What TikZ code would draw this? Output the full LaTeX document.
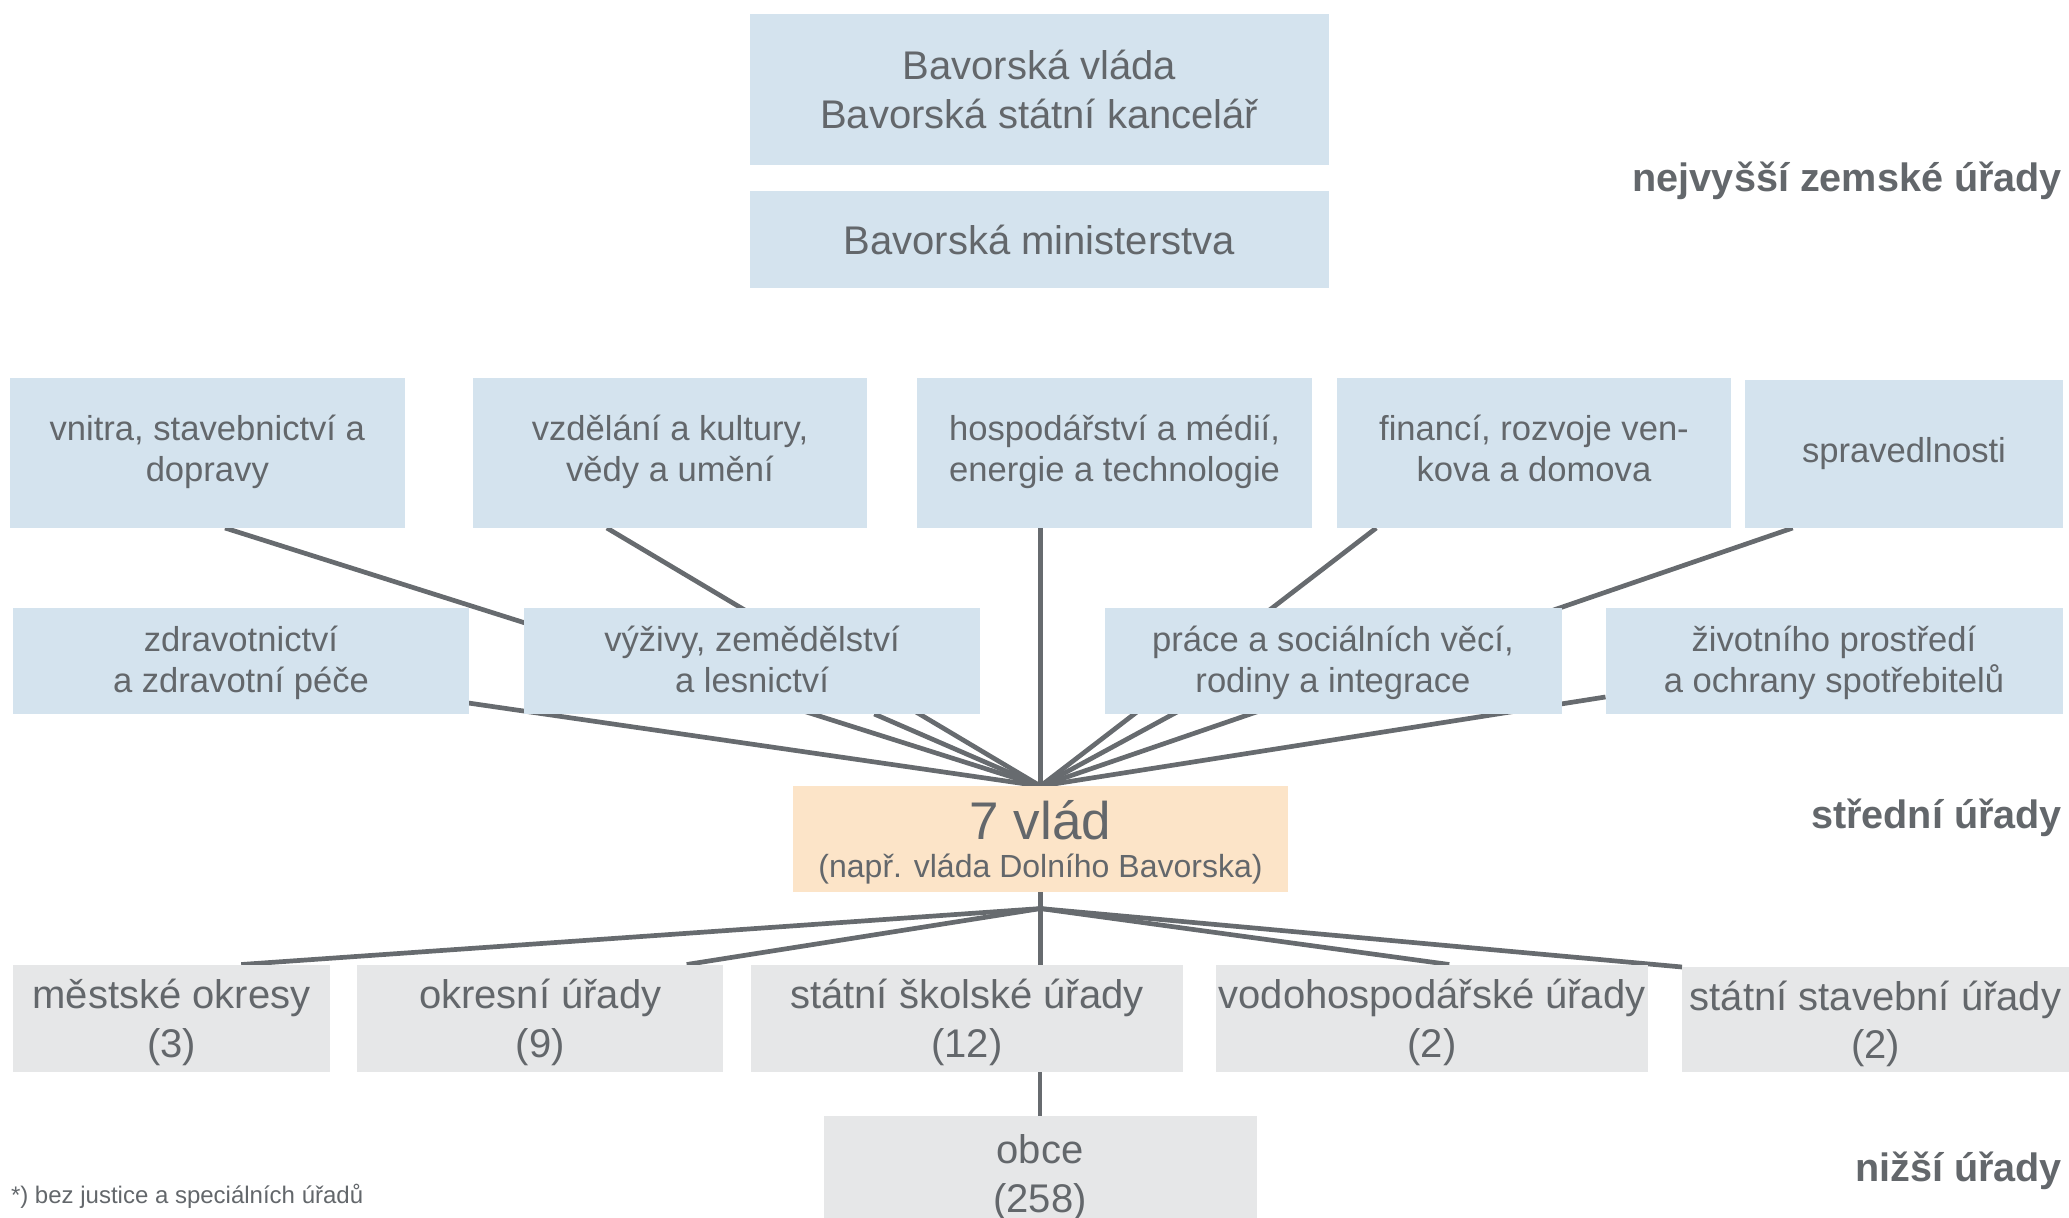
\documentclass[tikz,border=0pt]{standalone}
\usepackage{fontspec}
\setmainfont{Liberation Sans}
\usetikzlibrary{calc, backgrounds}

\definecolor{boxblue}{HTML}{D4E3EE}
\definecolor{boxorange}{HTML}{FCE4C8}
\definecolor{boxgray}{HTML}{E6E7E8}
\definecolor{textgray}{HTML}{63676B}
\definecolor{linegray}{HTML}{676B6F}

\begin{document}
\begin{tikzpicture}[x = 0.5pt, y = -0.5pt,
	every node/.style = {inner sep = 0pt, outer sep = 0pt, text = textgray},
	topoffice/.style = {fill = boxblue, align = center, minimum width = 289.75pt, font = \fontsize{20}{24.4}\selectfont},
	office/.style = {fill = boxblue, align = center, font = \fontsize{17.3}{20.5}\selectfont},
	midoffice/.style = {fill = boxorange, minimum width = 247.5pt, minimum height = 52.75pt},
	lowoffice/.style = {fill = boxgray, align = center, font = \fontsize{20}{24.4}\selectfont, text height = 39.4pt, text depth = 0pt},
	twolines/.style = {text height = #1, text depth = 0pt},
	tierlabel/.style = {anchor = base east, font = \fontsize{19.8}{24}\selectfont\bfseries},
	conn/.style = {draw = linegray, line width = 2.35pt}]

	\useasboundingbox (0, 0) rectangle (2069, 1217);

	% Highest state offices
	
	\node [topoffice, minimum height = 75.5pt, yshift = -0.5pt] (govt) at (1039.3, 88.5) {Bavorská vláda\\Bavorská státní kancelář};
	\node [topoffice, minimum height = 48.2pt] (minis) at (1039.3, 239.5) {Bavorská ministerstva};
	
	% Ministries, first row
	
	\node [office, twolines = 28.7pt, minimum width = 197.25pt, minimum height = 75pt] (vnitra) at (207.3, 453) {vnitra, stavebnictví a\\dopravy};
	\node [office, twolines = 28.7pt, minimum width = 197.3pt, minimum height = 75pt] (vzdelani) at (670, 453) {vzdělání a kultury,\\vědy a umění};
	\node [office, twolines = 28.7pt, minimum width = 197.5pt, minimum height = 75pt] (hosp) at (1114.6, 453) {hospodářství a médií,\\energie a technologie};
	\node [office, twolines = 28.7pt, minimum width = 197.2pt, minimum height = 75pt] (financi) at (1534, 453) {financí, rozvoje ven-\\kova a domova};
	\node [office, minimum width = 159pt, minimum height = 74pt] (sprav) at (1904, 454) {spravedlnosti};
	
	% Ministries, second row
	
	\node [office, twolines = 31.5pt, minimum width = 228pt, minimum height = 53pt] (zdrav) at (241, 661) {zdravotnictví\\a zdravotní péče};
	\node [office, twolines = 31.5pt, minimum width = 228pt, minimum height = 53pt] (vyziva) at (752, 661) {výživy, zemědělství\\a lesnictví};
	\node [office, twolines = 31.5pt, minimum width = 228.5pt, minimum height = 53pt] (prace) at (1333, 661) {práce a sociálních věcí,\\rodiny a integrace};
	\node [office, twolines = 31.5pt, minimum width = 228.5pt, minimum height = 53pt] (zivot) at (1834, 661) {životního prostředí\\a ochrany spotřebitelů};
	
	% Middle offices
	
	\node [midoffice] (vlad) at (1040.5, 838.8) {};
	\node [anchor = base, font = \fontsize{26.5}{30}\selectfont] (vladnum) at (1040.5, 839.5) {7 vlád};
	\node [anchor = base, font = \fontsize{16}{19}\selectfont] (vladsub) at (1040.5, 877) {(např. vláda Dolního Bavorska)};
	
	% Lower offices
	
	\node [lowoffice, minimum width = 158.5pt, minimum height = 53.5pt] (mestske) at (171.5, 1018) {městské okresy\\(3)};
	\node [lowoffice, minimum width = 183pt, minimum height = 53.5pt] (okresni) at (540.3, 1018) {okresní úřady\\(9)};
	\node [lowoffice, minimum width = 216.2pt, minimum height = 53.5pt] (skolske) at (966.9, 1018) {státní školské úřady\\(12)};
	\node [lowoffice, minimum width = 216pt, minimum height = 53.5pt] (vodo) at (1432, 1018) {vodohospodářské úřady\\(2)};
	\node [lowoffice, minimum width = 193.5pt, minimum height = 52.5pt] (stavebni) at (1875.5, 1019.5) {státní stavební úřady\\(2)};
	\node [lowoffice, minimum width = 216.5pt, minimum height = 57pt] (obce) at (1040, 1173) {obce\\(258)};
	
	% Tier labels and note
	
	\node [tierlabel] (tiertop) at (2062, 191.5) {nejvyšší zemské úřady};
	\node [tierlabel] (tiermid) at (2062, 828) {střední úřady};
	\node [tierlabel] (tierlow) at (2062, 1181.5) {nižší úřady};
	\node [anchor = base west, font = \fontsize{12}{14}\selectfont] (note) at (11, 1203) {*) bez justice a speciálních úřadů};
	
	% Connectors
	
	\coordinate (hubT) at (vlad.north);
	\coordinate (hubB) at ($(vlad.south) + (0, 17)$);
	
	\begin{scope}[on background layer]
		\draw [conn] ($(vnitra.south west)!0.545!(vnitra.south east)$) -- (hubT);
		\draw [conn] ($(vzdelani.south west)!0.34!(vzdelani.south east)$) -- (hubT);
		\draw [conn] (hosp.south -| hubT) -- (hubT);
		\draw [conn] ($(financi.south west)!0.10!(financi.south east)$) -- (hubT);
		\draw [conn] ($(sprav.south west)!0.15!(sprav.south east)$) -- (hubT);
		\draw [conn] ($(zdrav.center) + (0, 9)$) -- (hubT);
		\draw [conn] (vyziva) -- (hubT);
		\draw [conn] ($(prace.center) + (-62, 0)$) -- (hubT);
		\draw [conn] (zivot) -- (hubT);
		
		\draw [conn] (vlad.south) -- (vlad.south |- skolske.north);
		\draw [conn] (hubB) -- ($(mestske.north west)!0.72!(mestske.north east)$);
		\draw [conn] (hubB) -- ($(okresni.north west)!0.9!(okresni.north east)$);
		\draw [conn] (hubB) -- ($(vodo.north west)!0.54!(vodo.north east)$);
		\draw [conn] (hubB) -- (stavebni.north west);
		\draw [conn] (skolske.south -| obce.north) -- (obce.north);
	\end{scope}
	
\end{tikzpicture}
\end{document}
